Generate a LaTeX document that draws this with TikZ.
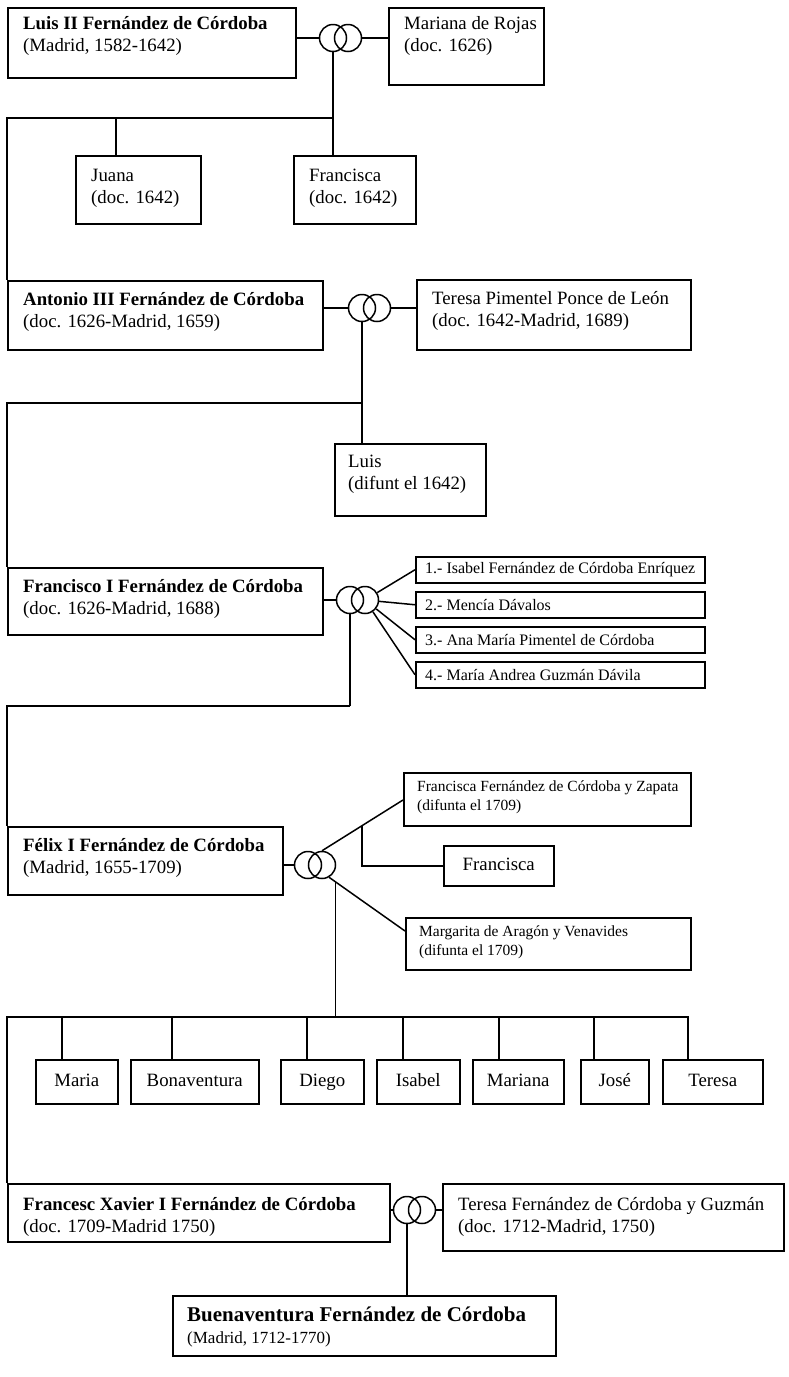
\documentclass[tikz,border=0pt]{standalone}
\usepackage{fontspec}
\setmainfont{Liberation Serif}
\usetikzlibrary{calc}
\tikzset{
  box/.style={draw, rectangle, inner sep=0pt, anchor=north west, line width=1.5pt},
  cbox/.style={draw, rectangle, inner sep=0pt, anchor=north west, line width=1.5pt, text height=13pt, text depth=4pt, font=\fontsize{18.8}{22}\selectfont},
  lab/.style={anchor=north west, inner sep=0pt, align=left, font=\fontsize{18.8}{22}\selectfont},
  slab/.style={anchor=north west, inner sep=0pt, align=left, font=\fontsize{15.5}{19}\selectfont},
  ring/.style={draw, circle, minimum size=27pt, inner sep=0pt, line width=1.5pt},
  conn/.style={line width=1.5pt}
}
\newcommand{\famb}[7]{%
  \node[box, minimum width=#4, minimum height=#5] (#1) at (#2,#3) {};
  \node[lab] (#1t) at ($(#1.north west)+(#6)$) {#7};}
\begin{document}
\begin{tikzpicture}[x=1pt,y=-1pt]
\useasboundingbox (0,0) rectangle (788,1377);
% ---------- generation 1
\famb{luisII}{7}{7}{288}{70}{16,9}{\textbf{Luis II Fernández de Córdoba}\\(Madrid, 1582-1642)}
\node[ring] (r1a) at (333,38) {};
\node[ring] (r1b) at (348,38) {};
\famb{mariana}{388}{7}{155}{77}{16,9}{Mariana de Rojas\\(doc. 1626)}
\draw[conn] (luisII.east |- r1a) -- (r1a.west);
\draw[conn] (r1b.east) -- (mariana.west |- r1b);
\famb{juana}{75}{155}{125}{68}{16,14}{Juana\\(doc. 1642)}
\famb{francisca}{293}{155}{122}{68}{16,14}{Francisca\\(doc. 1642)}
\coordinate (h1) at (333,118);
\draw[conn] (r1a.south) -- (r1a.south |- francisca.north);
\coordinate (j1) at ($(juana.north west)+(41,0)$);
\draw[conn] (j1) -- (j1 |- h1);
% ---------- generation 2
\famb{antonio}{7}{280}{315}{69}{16,12}{\textbf{Antonio III Fernández de Córdoba}\\(doc. 1626-Madrid, 1659)}
\draw[conn] (h1) -| (antonio.north west);
\node[ring] (r2a) at (362,308) {};
\node[ring] (r2b) at (377,308) {};
\famb{teresaP}{416}{279}{274}{70}{16,12}{Teresa Pimentel Ponce de León\\(doc. 1642-Madrid, 1689)}
\draw[conn] (antonio.east |- r2a) -- (r2a.west);
\draw[conn] (r2b.east) -- (teresaP.west |- r2b);
\famb{luis}{334}{443}{151}{72}{14,12}{Luis\\(difunt el 1642)}
\draw[conn] (r2a.south) -- (r2a.south |- luis.north);
% ---------- generation 3
\famb{francisco}{7}{567}{315}{67}{16,12}{\textbf{Francisco I Fernández de Córdoba}\\(doc. 1626-Madrid, 1688)}
\coordinate (h2) at (362,403);
\draw[conn] (h2) -| (francisco.north west);
\node[ring] (r3a) at (350,600) {};
\node[ring] (r3b) at (365,600) {};
\draw[conn] (francisco.east |- r3a) -- (r3a.west);
\node[box, minimum width=289, minimum height=26] (w1) at (415,556) {};
\node[slab, anchor=west, font=\fontsize{16}{19}\selectfont] (w1t) at ($(w1.west)+(10,0)$) {1.- Isabel Fernández de Córdoba Enríquez};
\node[box, minimum width=289, minimum height=26] (w2) at (415,591) {};
\node[slab, anchor=west, font=\fontsize{16}{19}\selectfont] (w2t) at ($(w2.west)+(10,0)$) {2.- Mencía Dávalos};
\node[box, minimum width=289, minimum height=26] (w3) at (415,626) {};
\node[slab, anchor=west, font=\fontsize{16}{19}\selectfont] (w3t) at ($(w3.west)+(10,0)$) {3.- Ana María Pimentel de Córdoba};
\node[box, minimum width=289, minimum height=26] (w4) at (415,661) {};
\node[slab, anchor=west, font=\fontsize{16}{19}\selectfont] (w4t) at ($(w4.west)+(10,0)$) {4.- María Andrea Guzmán Dávila};
\foreach \w in {w1,w2,w3,w4} \draw[conn] (r3b) -- (\w.west);
\coordinate (h3) at (350,706);
\draw[conn] (r3a.south) -- (h3);
% ---------- generation 4
\famb{felix}{7}{826}{275}{68}{16,12}{\textbf{Félix I Fernández de Córdoba}\\(Madrid, 1655-1709)}
\draw[conn] (h3) -| (felix.north west);
\node[ring] (r4a) at (308,865) {};
\node[ring] (r4b) at (322,865) {};
\draw[conn] (felix.east |- r4a) -- (r4a.west);
\node[box, minimum width=287, minimum height=53] (zapata) at (403,772) {};
\node[slab] (zapatat) at ($(zapata.north west)+(14,9)$) {Francisca Fernández de Córdoba y Zapata\\(difunta el 1709)};
\node[cbox, minimum width=110, minimum height=40] (franc2) at (443,845) {Francisca};
\node[box, minimum width=285, minimum height=52] (margarita) at (405,917) {};
\node[slab] (margaritat) at ($(margarita.north west)+(14,9)$) {Margarita de Aragón y Venavides\\(difunta el 1709)};
\coordinate (zp) at ($(zapata.north west)+(0,28)$);
\coordinate (mp) at ($(margarita.north west)+(0,14)$);
\draw[conn] (r4b.north) -- (zp);
\draw[conn] (r4b.-60) -- (mp);
\coordinate (fb) at ($(r4b.north)!0.494!(zp)$);
\draw[conn] (fb) |- (franc2.west);
\coordinate (vb) at ($(r4b.-60)!0.082!(mp)$);
\coordinate (h4) at (335,1017);
\draw[conn] (vb) -- (vb |- h4);
% children
\node[cbox, minimum width=82, minimum height=44] (maria) at (35,1059) {Maria};
\node[cbox, minimum width=128, minimum height=44] (bonav) at (130,1059) {Bonaventura};
\node[cbox, minimum width=83, minimum height=44] (diego) at (280,1059) {Diego};
\node[cbox, minimum width=83, minimum height=44] (isabel) at (376,1059) {Isabel};
\node[cbox, minimum width=91, minimum height=44] (mariana2) at (472,1059) {Mariana};
\node[cbox, minimum width=68, minimum height=44] (jose) at (580,1059) {José};
\node[cbox, minimum width=100, minimum height=44] (teresaC) at (662,1059) {Teresa};
\coordinate (cmaria) at ($(maria.north west)+(27,0)$);
\coordinate (cbonav) at ($(bonav.north west)+(42,0)$);
\coordinate (cdiego) at ($(diego.north west)+(27,0)$);
\coordinate (cisabel) at ($(isabel.north west)+(27,0)$);
\coordinate (cmariana) at ($(mariana2.north west)+(27,0)$);
\coordinate (cjose) at ($(jose.north west)+(14,0)$);
\coordinate (cteresa) at ($(teresaC.north west)+(26,0)$);
\foreach \c in {cmaria,cbonav,cdiego,cisabel,cmariana,cjose} \draw[conn] (\c) -- (\c |- h4);
% ---------- generation 5
\famb{francesc}{7}{1183}{382}{58}{16,14}{\textbf{Francesc Xavier I Fernández de Córdoba}\\(doc. 1709-Madrid 1750)}
\draw[conn] (francesc.north west) -- (francesc.north west |- h4) -- (cteresa |- h4) -- (cteresa);
\node[ring] (r5a) at (407,1210) {};
\node[ring] (r5b) at (422,1210) {};
\famb{teresaF}{442}{1183}{341}{67}{16,14}{Teresa Fernández de Córdoba y Guzmán\\(doc. 1712-Madrid, 1750)}
\draw[conn] (francesc.east |- r5a) -- (r5a.west);
\draw[conn] (r5b.east) -- (teresaF.west |- r5b);
\node[box, minimum width=383, minimum height=60] (buena) at (172,1295) {};
\node[lab] (buenat) at ($(buena.north west)+(15,12)$) {{\fontsize{21}{24}\selectfont\bfseries Buenaventura Fernández de Córdoba}\\{\fontsize{17}{20}\selectfont (Madrid, 1712-1770)}};
\draw[conn] (r5a.south) -- (r5a.south |- buena.north);
\end{tikzpicture}
\end{document}
